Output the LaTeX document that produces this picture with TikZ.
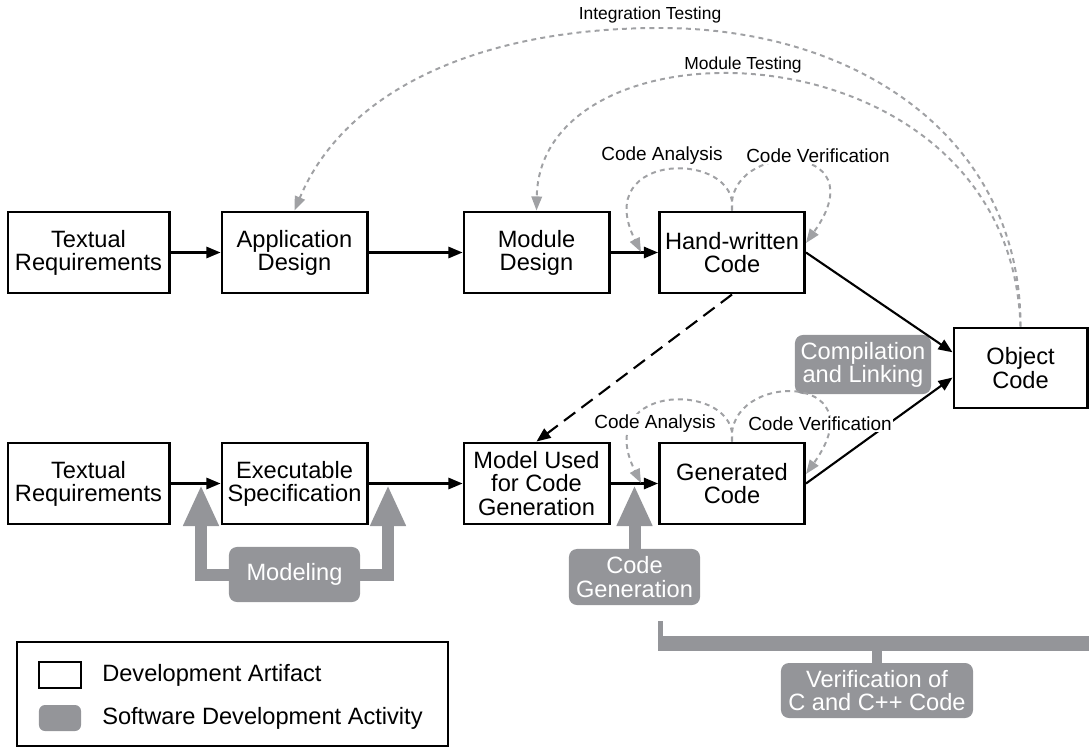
\documentclass[tikz,border=0pt]{standalone}
\usepackage{fontspec}
\setmainfont{Liberation Sans}
\usepackage{tikz}
\usetikzlibrary{arrows.meta}

\definecolor{actgray}{RGB}{148,149,153}
\definecolor{loopgray}{RGB}{160,161,164}

\tikzset{
	artifact/.style = {draw, line width = 2.1pt, fill = white, inner sep = 0pt, align = center,
		minimum width = 3.625cm, minimum height = 2.025cm, font = \fontsize{16.8}{16.5}\selectfont},
	activity/.style = {fill = actgray, rounded corners = 0.2cm, inner sep = 0pt, align = center,
		text = white, font = \fontsize{16.8}{16.5}\selectfont},
	flow/.style = {line width = 1.5pt, -{Triangle[length = 10pt, width = 8pt]}},
	check/.style = {loopgray, line width = 1.4pt, dash pattern = on 3.5pt off 3pt,
		-{Triangle[length = 10pt, width = 7.5pt]}},
	checklabel/.style = {fill = white, inner sep = 1pt, font = \fontsize{13.5}{14}\selectfont},
	testlabel/.style = {inner sep = 1pt, font = \fontsize{12.4}{13}\selectfont},
	bigup/.style = {actgray, line width = 0.3cm, -{Triangle[length = 1.025cm, width = 0.825cm]}}
}

\begin{document}
\begin{tikzpicture}[x = 0.025cm, y = -0.025cm]
	\useasboundingbox (0,0) rectangle (1089,748);
	
	% hand-written path
	\node[artifact, minimum width = 4.025cm] (reqtop) at (88.5, 252.5) {Textual\\Requirements};
	\node[artifact] (apptop) at (294.5, 252.5) {Application\\Design};
	\node[artifact] (modtop) at (536.5, 252.5) {Module\\Design};
	\node[artifact] (handtop) at (732, 252.5) {Hand-written\\Code};
	
	% model-based path
	\node[artifact, minimum width = 4.025cm] (reqbot) at (88.5, 483.5) {Textual\\Requirements};
	\node[artifact] (execbot) at (294.5, 483.5) {Executable\\Specification};
	\node[artifact] (modelbot) at (536.5, 483.5) {Model Used\\for Code\\Generation};
	\node[artifact] (genbot) at (732, 483.5) {Generated\\Code};
	
	\node[artifact, minimum width = 3.325cm, minimum height = 2cm] (objcode) at (1020.5, 368) {Object\\Code};
	
	% activities
	\node[activity, minimum width = 3.4cm, minimum height = 1.475cm] (complink) at (863, 364.5) {Compilation\\and Linking};
	\node[activity, minimum width = 3.275cm, minimum height = 1.375cm] (modeling) at (294.5, 574.5) {Modeling};
	\node[activity, minimum width = 3.275cm, minimum height = 1.4cm] (codegen) at (634.5, 577) {Code\\Generation};
	\node[activity, minimum width = 4.8cm, minimum height = 1.375cm] (verif) at (877, 690.5) {Verification of\\C and C++ Code};
	
	\coordinate (modtipL) at (201, 485);
	\coordinate (modtipR) at (388, 485);
	\coordinate (gentip) at (634.5, 485);
	\draw[bigup] (modeling.west) -| (modtipL);
	\draw[bigup] (modeling.east) -| (modtipR);
	\draw[bigup] (codegen.north) -- (gentip);
	
	% verification bracket
	\coordinate (brackL) at (660.5, 621);
	\coordinate (brackB) at (877, 650);
	\draw[actgray, line width = 3.5pt] (brackL) -- (660.5, 643);
	\fill[actgray] (658, 636) rectangle (1089, 651);
	\draw[actgray, line width = 0.23cm] (verif.north) -- (brackB);
	
	% flows
	\draw[flow] (reqtop) -- (apptop);
	\draw[flow] (apptop) -- (modtop);
	\draw[flow] (modtop) -- (handtop);
	\draw[flow] (reqbot) -- (execbot);
	\draw[flow] (execbot) -- (modelbot);
	\draw[flow] (modelbot) -- (genbot);
	\draw[flow] (handtop.east) -- (objcode.167);
	\draw[flow] (genbot.east) -- (objcode.188);
	\draw[line width = 1.5pt, dash pattern = on 10pt off 5.5pt, -{Triangle[length = 10pt, width = 8pt]}]
		(handtop.south) -- (modelbot.north);
	
	% testing
	\draw[check] (objcode.north) .. controls (1010, 20) and (540, 10) .. (modtop.north);
	\draw[check] (objcode.north) .. controls (1021, 140) and (860, 28) .. (660, 28)
		.. controls (480, 28) and (345, 90) .. (apptop.north);
	\node[testlabel] (inttest) at (650, 15) {Integration Testing};
	\node[testlabel] (modtest) at (743, 65) {Module Testing};
	
	% code analysis and verification loops
	\coordinate (anatop) at (641, 252);
	\coordinate (vertop) at (806, 243);
	\coordinate (anabot) at (641, 483);
	\coordinate (verbot) at (806, 474);
	\draw[check] (handtop.north) .. controls (740, 150) and (590, 150) .. (anatop);
	\draw[check] (handtop.north) .. controls (725, 140) and (880, 140) .. (vertop);
	\draw[check] (genbot.north) .. controls (740, 381) and (590, 381) .. (anabot);
	\draw[check] (genbot.north) .. controls (725, 371) and (880, 371) .. (verbot);
	\node[checklabel] (anatxt) at (662, 156) {Code Analysis};
	\node[checklabel] (vertxt) at (818, 156) {Code Verification};
	\node[checklabel] (anatxtb) at (655, 424) {Code Analysis};
	\node[checklabel] (vertxtb) at (820, 424) {Code Verification};
	
	% legend
	\draw[line width = 1.3pt] (17, 642) rectangle (448, 746);
	\node[artifact, line width = 1.4pt, minimum width = 1.05cm, minimum height = 0.65cm] (legart) at (60, 675) {};
	\node[activity, rounded corners = 0.15cm, minimum width = 1.05cm, minimum height = 0.65cm] (legact) at (60, 718) {};
	\node[anchor = west, inner sep = 0pt, font = \fontsize{16.8}{16.5}\selectfont] (legarttxt) at (102, 675) {Development Artifact};
	\node[anchor = west, inner sep = 0pt, font = \fontsize{16.8}{16.5}\selectfont] (legacttxt) at (102, 718) {Software Development Activity};
\end{tikzpicture}
\end{document}
